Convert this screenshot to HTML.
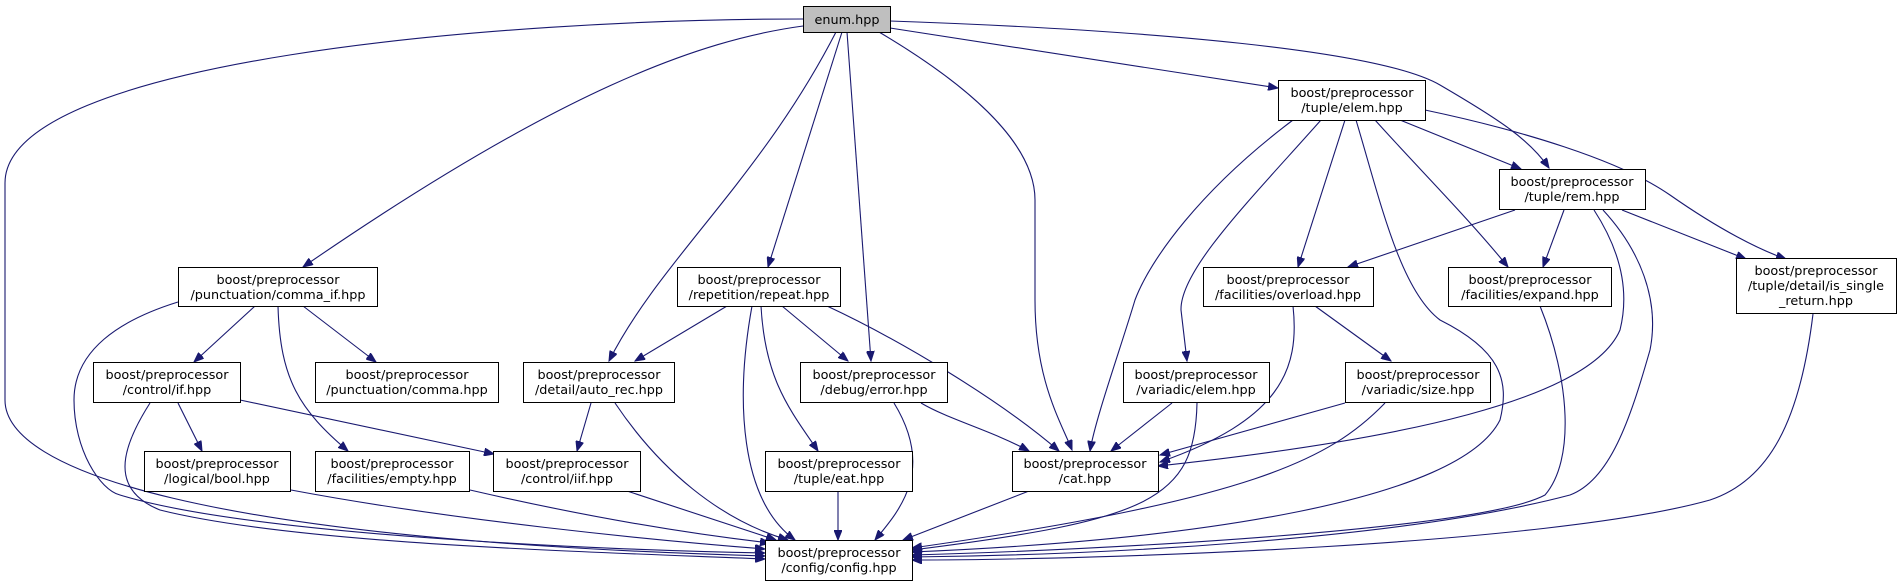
<!DOCTYPE html>
<html><head><meta charset="utf-8"><style>
html,body{margin:0;padding:0;background:#fff;}
svg{display:block;}
text{font-family:"DejaVu Sans","Liberation Sans",sans-serif;font-size:12.8px;fill:#000;text-anchor:middle;}
.b{fill:#fff;stroke:#000;stroke-width:1;}
.e{fill:none;stroke:#191970;stroke-width:1.1;marker-end:url(#a);}
</style></head><body>
<svg width="1903" height="588" viewBox="0 0 1903 588" xmlns="http://www.w3.org/2000/svg">
<defs><marker id="a" markerWidth="11" markerHeight="8" refX="10" refY="4" orient="auto" markerUnits="userSpaceOnUse"><path d="M0,0 L10,4 L0,8 z" fill="#191970" stroke="#191970"/></marker></defs>

<!-- edges -->
<path class="e" d="M803,19 C500,19 5,60 5,183 L5,400 C5,470 200,540 765,556"/>
<path class="e" d="M803,26 C700,40 560,90 303,267"/>
<path class="e" d="M836,32 C760,180 660,260 609,361"/>
<path class="e" d="M842,32 L768,267"/>
<path class="e" d="M847,32 L871,361"/>
<path class="e" d="M879,32 C960,80 1035,140 1035,200 L1035,300 C1035,380 1060,420 1072,450"/>
<path class="e" d="M890,28 L1278,88"/>
<path class="e" d="M890,21 C1150,30 1380,50 1440,85 C1500,120 1530,140 1549,168"/>

<path class="e" d="M255,306 L194,362"/>
<path class="e" d="M303,306 L376,362"/>
<path class="e" d="M278,306 C280,380 300,410 348,451"/>
<path class="e" d="M178,302 C120,320 74,350 74,400 C74,450 100,490 120,495 C250,535 600,550 765,553"/>
<path class="e" d="M178,403 L202,451"/>
<path class="e" d="M240,400 L494,454"/>
<path class="e" d="M150,403 C120,450 110,490 160,510 C300,545 600,552 765,559"/>
<path class="e" d="M291,490 C450,520 650,540 765,549"/>
<path class="e" d="M470,490 C600,520 700,535 770,543"/>
<path class="e" d="M627,491 L776,540"/>
<path class="e" d="M591,403 L577,451"/>
<path class="e" d="M615,403 C660,470 720,520 788,540"/>
<path class="e" d="M727,306 L635,361"/>
<path class="e" d="M752,306 C735,400 740,500 795,540"/>
<path class="e" d="M761,306 C765,380 790,410 818,451"/>
<path class="e" d="M782,306 L848,361"/>
<path class="e" d="M827,306 C900,340 1000,400 1059,451"/>
<path class="e" d="M894,403 C935,470 900,510 875,540"/>
<path class="e" d="M921,403 C950,420 990,430 1029,451"/>
<path class="e" d="M838,491 L838,540"/>
<path class="e" d="M1029,491 L903,540"/>

<path class="e" d="M1293,120 C1200,190 1150,260 1135,300 C1120,350 1095,420 1090,451"/>
<path class="e" d="M1321,120 C1250,200 1180,270 1181,310 L1187,361"/>
<path class="e" d="M1345,120 L1298,267"/>
<path class="e" d="M1356,120 C1380,200 1400,290 1440,320 C1500,350 1510,380 1500,420 C1460,500 1200,540 912,552"/>
<path class="e" d="M1375,120 C1420,170 1470,220 1508,267"/>
<path class="e" d="M1400,120 L1521,169"/>
<path class="e" d="M1425,110 C1520,130 1620,160 1670,195 C1720,230 1760,250 1786,259"/>
<path class="e" d="M1515,210 L1348,267"/>
<path class="e" d="M1564,210 L1543,267"/>
<path class="e" d="M1622,210 L1746,259"/>
<path class="e" d="M1594,210 C1620,250 1630,290 1620,330 C1590,400 1400,440 1158,466"/>
<path class="e" d="M1603,210 C1640,250 1660,300 1650,350 C1630,420 1610,480 1570,495 C1400,540 1100,555 912,557"/>
<path class="e" d="M1293,306 C1300,370 1280,420 1160,462"/>
<path class="e" d="M1315,306 L1391,361"/>
<path class="e" d="M1540,306 C1570,380 1575,460 1545,495 C1480,530 1100,550 912,555"/>
<path class="e" d="M1813,314 C1800,420 1770,480 1710,500 C1550,545 1100,560 912,560"/>
<path class="e" d="M1172,403 L1111,451"/>
<path class="e" d="M1197,403 C1195,500 1150,520 912,550"/>
<path class="e" d="M1345,403 L1160,455"/>
<path class="e" d="M1385,403 C1330,460 1250,500 912,548"/>

<!-- nodes -->
<rect x="803.5" y="6.5" width="87" height="26" fill="#bfbfbf" stroke="#000"/>
<text x="847" y="24">enum.hpp</text>

<g>
<rect class="b" x="178.5" y="267.5" width="199" height="39"/><text x="278" y="284">boost/preprocessor</text><text x="278" y="299">/punctuation/comma_if.hpp</text>
<rect class="b" x="677.5" y="267.5" width="163" height="39"/><text x="759" y="284">boost/preprocessor</text><text x="759" y="299">/repetition/repeat.hpp</text>
<rect class="b" x="1278.5" y="80.5" width="147" height="40"/><text x="1352" y="97">boost/preprocessor</text><text x="1352" y="112">/tuple/elem.hpp</text>
<rect class="b" x="1499.5" y="169.5" width="146" height="40"/><text x="1572" y="186">boost/preprocessor</text><text x="1572" y="201">/tuple/rem.hpp</text>
<rect class="b" x="1203.5" y="267.5" width="170" height="39"/><text x="1288" y="284">boost/preprocessor</text><text x="1288" y="299">/facilities/overload.hpp</text>
<rect class="b" x="1448.5" y="267.5" width="163" height="39"/><text x="1530" y="284">boost/preprocessor</text><text x="1530" y="299">/facilities/expand.hpp</text>
<rect class="b" x="1736.5" y="258.5" width="160" height="55"/><text x="1816" y="275">boost/preprocessor</text><text x="1816" y="290">/tuple/detail/is_single</text><text x="1816" y="305">_return.hpp</text>
<rect class="b" x="93.5" y="362.5" width="147" height="40"/><text x="167" y="379">boost/preprocessor</text><text x="167" y="394">/control/if.hpp</text>
<rect class="b" x="315.5" y="362.5" width="183" height="40"/><text x="407" y="379">boost/preprocessor</text><text x="407" y="394">/punctuation/comma.hpp</text>
<rect class="b" x="523.5" y="362.5" width="151" height="40"/><text x="599" y="379">boost/preprocessor</text><text x="599" y="394">/detail/auto_rec.hpp</text>
<rect class="b" x="800.5" y="362.5" width="147" height="40"/><text x="874" y="379">boost/preprocessor</text><text x="874" y="394">/debug/error.hpp</text>
<rect class="b" x="1123.5" y="362.5" width="146" height="40"/><text x="1196" y="379">boost/preprocessor</text><text x="1196" y="394">/variadic/elem.hpp</text>
<rect class="b" x="1345.5" y="362.5" width="145" height="40"/><text x="1418" y="379">boost/preprocessor</text><text x="1418" y="394">/variadic/size.hpp</text>
<rect class="b" x="144.5" y="451.5" width="146" height="40"/><text x="217" y="468">boost/preprocessor</text><text x="217" y="483">/logical/bool.hpp</text>
<rect class="b" x="315.5" y="451.5" width="154" height="40"/><text x="392" y="468">boost/preprocessor</text><text x="392" y="483">/facilities/empty.hpp</text>
<rect class="b" x="493.5" y="451.5" width="147" height="40"/><text x="567" y="468">boost/preprocessor</text><text x="567" y="483">/control/iif.hpp</text>
<rect class="b" x="765.5" y="451.5" width="147" height="40"/><text x="839" y="468">boost/preprocessor</text><text x="839" y="483">/tuple/eat.hpp</text>
<rect class="b" x="1012.5" y="451.5" width="146" height="40"/><text x="1085" y="468">boost/preprocessor</text><text x="1085" y="483">/cat.hpp</text>
<rect class="b" x="765.5" y="540.5" width="147" height="40"/><text x="839" y="557">boost/preprocessor</text><text x="839" y="572">/config/config.hpp</text>
</g>
</svg>
</body></html>
